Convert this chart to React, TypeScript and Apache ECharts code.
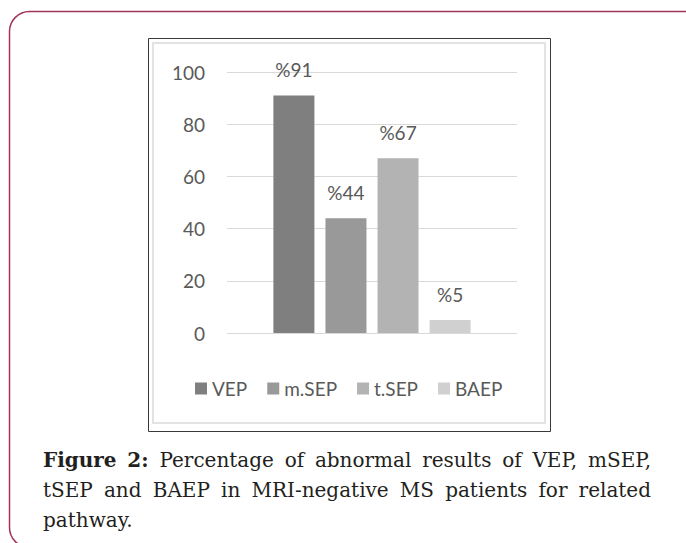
import React, { useEffect, useRef } from 'react';
import * as echarts from 'echarts';

const categories = ['VEP', 'm.SEP', 't.SEP', 'BAEP'];
const values = [91, 44, 67, 5];
const barColors = ['#7f7f7f', '#999999', '#b3b3b3', '#d0d0d0'];
const yMin = 0;
const yMax = 100;
const yInterval = 20;
const captionBold = 'Figure 2:';
const captionLines = [
  'Figure 2: Percentage of abnormal results of VEP, mSEP,',
  'tSEP and BAEP in MRI-negative MS patients for related',
  'pathway.',
];

const CAP_FONT = '"DejaVu Serif"';
const CAP_SIZE = 20;

function buildCaption(): any[] {
  const canvas = document.createElement('canvas');
  const ctx = canvas.getContext('2d') as CanvasRenderingContext2D;
  const left = 43;
  const right = 651;
  const baselines = [467, 497, 527];
  const boldWords = captionBold.split(' ');
  const els: any[] = [];
  captionLines.forEach((line, li) => {
    const words = line.split(' ');
    const info = words.map((w, wi) => {
      const bold = li === 0 && wi < boldWords.length;
      ctx.font = `${bold ? 'bold ' : ''}${CAP_SIZE}px ${CAP_FONT}`;
      return { w, bold, width: ctx.measureText(w).width };
    });
    const total = info.reduce((s, a) => s + a.width, 0);
    ctx.font = `${CAP_SIZE}px ${CAP_FONT}`;
    const spaceW = ctx.measureText(' ').width;
    const justify = li < captionLines.length - 1;
    const gap = justify && info.length > 1 ? (right - left - total) / (info.length - 1) : spaceW;
    let x = left;
    info.forEach((it) => {
      els.push({
        type: 'text',
        x,
        y: baselines[li] - 7,
        style: {
          text: it.w,
          fill: '#231f20',
          fontSize: CAP_SIZE,
          fontFamily: CAP_FONT,
          fontWeight: it.bold ? 'bold' : 'normal',
          verticalAlign: 'middle',
          align: 'left',
        },
      });
      x += it.width + gap;
    });
  });
  return els;
}

export default function App() {
  const ref = useRef<HTMLDivElement>(null);
  useEffect(() => {
    document.body.style.margin = '0';
    const chart = echarts.init(ref.current as HTMLDivElement, null, { renderer: 'svg' });
    const option: any = {
      animation: false,
      backgroundColor: '#ffffff',
      textStyle: { fontFamily: 'Lato' },
      grid: { left: 227, right: 169, top: 72, bottom: 210, containLabel: false },
      xAxis: { type: 'category', data: [''], show: false },
      yAxis: {
        type: 'value',
        min: yMin,
        max: yMax,
        interval: yInterval,
        axisLine: { show: false },
        axisTick: { show: false },
        axisLabel: { color: '#595959', fontSize: 19, margin: 22, fontFamily: 'Lato' },
        splitLine: { lineStyle: { color: '#d9d9d9', width: 1 } },
      },
      legend: {
        left: 190,
        top: 374,
        itemWidth: 12,
        itemHeight: 12,
        itemGap: 20,
        icon: 'rect',
        textStyle: { color: '#595959', fontSize: 19, fontFamily: 'Lato' },
        data: categories,
      },
      series: categories.map((c, i) => ({
        type: 'bar',
        name: c,
        data: [values[i]],
        barWidth: 41,
        barGap: '27%',
        itemStyle: { color: barColors[i] },
        label: {
          show: true,
          position: 'top',
          distance: 16,
          formatter: '%{c}',
          color: '#595959',
          fontSize: 19,
          fontFamily: 'Lato',
        },
      })),
      graphic: [
        {
          type: 'rect',
          shape: { x: 9.5, y: 11.5, width: 700, height: 536, r: 20 },
          style: { fill: 'transparent', stroke: '#a3345a', lineWidth: 1.5 },
        },
        {
          type: 'rect',
          shape: { x: 148.5, y: 38.5, width: 402, height: 393 },
          style: { fill: 'transparent', stroke: '#3a3a3a', lineWidth: 1 },
        },
        {
          type: 'rect',
          shape: { x: 153, y: 43, width: 392, height: 380 },
          style: { fill: 'transparent', stroke: '#e3e3e3', lineWidth: 2 },
        },
        ...buildCaption(),
      ],
    };
    chart.setOption(option);
    return () => chart.dispose();
  }, []);
  return <div ref={ref} style={{ width: 686, height: 543 }} />;
}
